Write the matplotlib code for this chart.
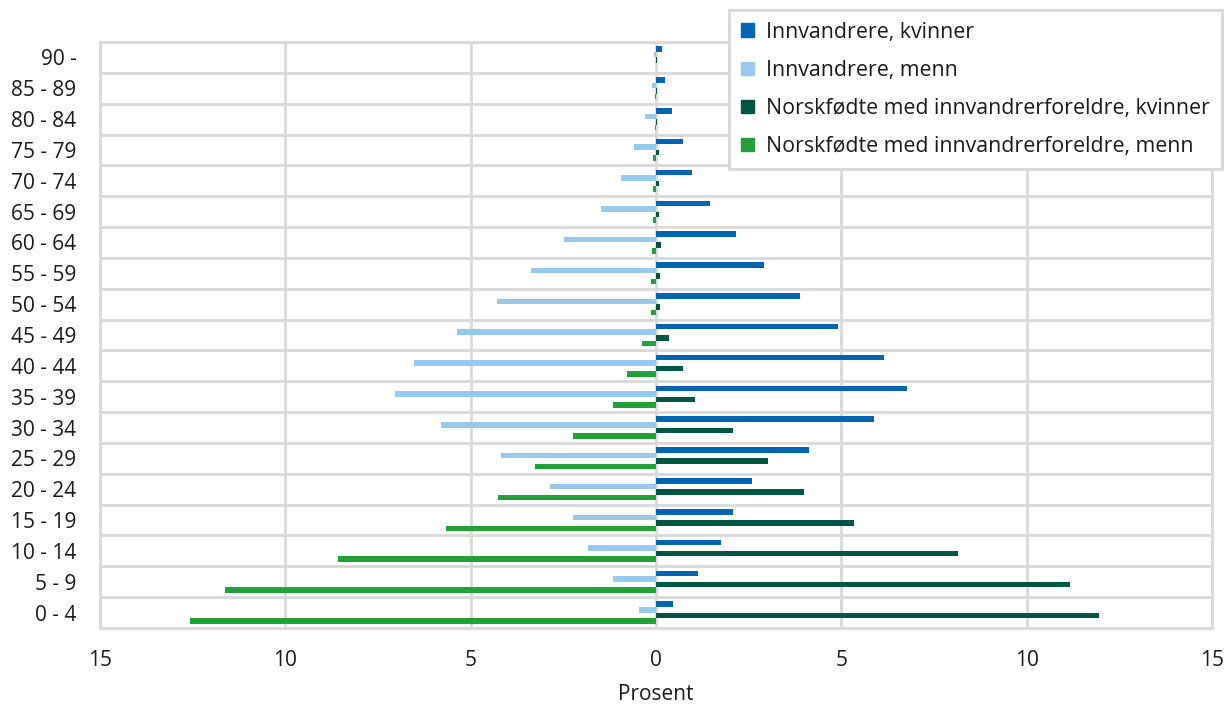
import numpy as np
import matplotlib.pyplot as plt
from matplotlib.patches import Patch
from matplotlib.ticker import FuncFormatter

plt.rcParams['font.family'] = ['Open Sans', 'DejaVu Sans']

# Age groups, bottom to top
ages = ["0 - 4", "5 - 9", "10 - 14", "15 - 19", "20 - 24", "25 - 29", "30 - 34",
        "35 - 39", "40 - 44", "45 - 49", "50 - 54", "55 - 59", "60 - 64",
        "65 - 69", "70 - 74", "75 - 79", "80 - 84", "85 - 89", "90 -"]

# Percent values (men drawn on the negative side)
innv_kvinner = [0.46, 1.12, 1.75, 2.09, 2.58, 4.12, 5.87, 6.77, 6.14, 4.91,
                3.88, 2.92, 2.16, 1.46, 0.97, 0.72, 0.43, 0.25, 0.16]
innv_menn = [0.46, 1.17, 1.84, 2.23, 2.87, 4.18, 5.81, 7.04, 6.54, 5.36,
             4.30, 3.38, 2.48, 1.48, 0.95, 0.60, 0.29, 0.12, 0.06]
nf_kvinner = [11.94, 11.16, 8.16, 5.34, 3.98, 3.02, 2.09, 1.06, 0.74, 0.35,
              0.12, 0.12, 0.14, 0.08, 0.08, 0.08, 0.03, 0.03, 0.02]
nf_menn = [12.58, 11.64, 8.57, 5.66, 4.27, 3.27, 2.23, 1.16, 0.79, 0.37,
           0.13, 0.13, 0.12, 0.08, 0.08, 0.08, 0.02, 0.02, 0.01]

labels = ["Innvandrere, kvinner", "Innvandrere, menn",
          "Norskfødte med innvandrerforeldre, kvinner",
          "Norskfødte med innvandrerforeldre, menn"]
colors = ["#0066b3", "#98c8ec", "#005645", "#22a13a"]

fig = plt.figure(figsize=(12.28, 7.04), dpi=100)
ax = fig.add_axes([100 / 1228, 1 - 628 / 704, 1112 / 1228, 586 / 704])

y = np.arange(len(ages))
h = 0.18
series = [np.array(innv_kvinner), -np.array(innv_menn),
          np.array(nf_kvinner), -np.array(nf_menn)]
offsets = [1.5 * h, 0.5 * h, -0.5 * h, -1.5 * h]
for vals, off, c in zip(series, offsets, colors):
    ax.barh(y + off, vals, height=h, color=c, zorder=3)

ax.set_xlim(-15, 15)
ax.set_ylim(-0.5, len(ages) - 0.5)
ax.set_xticks(np.arange(-15, 16, 5))
ax.xaxis.set_major_formatter(FuncFormatter(lambda v, p: f"{abs(int(v))}"))
ax.set_yticks(y)
ax.set_yticklabels(ages)
ax.set_yticks(np.arange(-0.5, len(ages), 1), minor=True)

grid_c = "#d9d9d9"
txt_c = "#1a1a1a"
ax.grid(axis='x', which='major', color=grid_c, lw=2, zorder=0)
ax.grid(axis='y', which='minor', color=grid_c, lw=2, zorder=0)
ax.grid(axis='y', which='major', visible=False)
for s in ax.spines.values():
    s.set_color(grid_c)
    s.set_linewidth(2)
ax.tick_params(axis='both', which='both', length=0, labelsize=15, colors=txt_c)
ax.tick_params(axis='x', pad=16)
ax.tick_params(axis='y', pad=17)

ax.set_xlabel("Prosent", fontsize=15, color=txt_c, labelpad=9)

handles = [Patch(color=c, label=l) for c, l in zip(colors, labels)]
leg = fig.legend(handles=handles, loc='upper right',
                 bbox_to_anchor=(1222 / 1228, 1 - 10 / 704),
                 fontsize=15.4, frameon=True, fancybox=False,
                 handlelength=0.6, handleheight=0.6, handletextpad=0.6,
                 labelspacing=0.8, borderpad=0.55, borderaxespad=0)
leg.get_frame().set_edgecolor(grid_c)
leg.get_frame().set_linewidth(2)
leg.get_frame().set_alpha(1)
for t in leg.get_texts():
    t.set_color(txt_c)

fig.savefig("out.png", dpi=100)
